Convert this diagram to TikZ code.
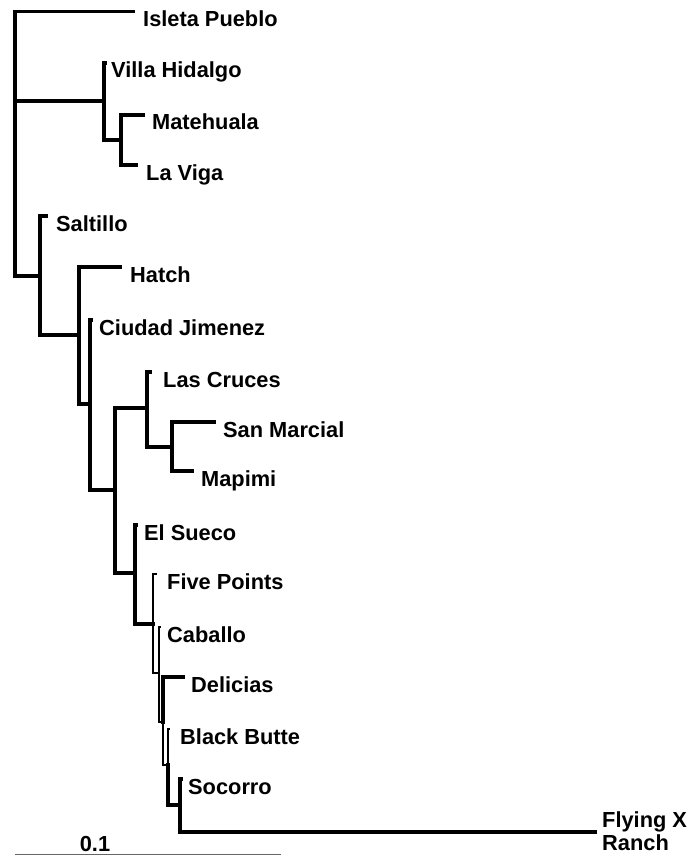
\documentclass[tikz,border=0pt]{standalone}
\usepackage{fontspec}
\setmainfont{Liberation Sans}
\begin{document}
\begin{tikzpicture}[x=1pt,y=-1pt,
  br/.style={line width=3.4pt, line cap=rect, line join=miter},
  thinbr/.style={line width=2.4pt, line cap=rect, line join=miter},
  lab/.style={anchor=base west, inner sep=0pt, font=\fontsize{21.8}{23}\selectfont\bfseries},
  scalebar/.style={line width=1.2pt, draw=black!60}]
\useasboundingbox (0,0) rectangle (700,856);
% internal nodes
\coordinate (root) at (15,101);
\coordinate (A) at (104,101);
\coordinate (B) at (121,140);
\coordinate (C) at (40,276);
\coordinate (D1) at (79,335);
\coordinate (E1) at (90,404);
\coordinate (F1) at (115,490);
\coordinate (G1) at (147,408);
\coordinate (G2) at (172,447);
\coordinate (H1) at (135,573);
\coordinate (H2) at (153,624);
\coordinate (H3) at (159,673);
\coordinate (H4) at (163,722);
\coordinate (H5) at (168,765);
\coordinate (H6) at (180,805);
% leaf tips
\coordinate (isleta) at (133,11.5);
\coordinate (villa) at (105,63);
\coordinate (matehuala) at (143,115);
\coordinate (laviga) at (136,165);
\coordinate (saltillo) at (46,216);
\coordinate (hatch) at (120,267);
\coordinate (ciudad) at (91,320);
\coordinate (lascruces) at (150,372);
\coordinate (sanmarcial) at (214,422);
\coordinate (mapimi) at (192,471);
\coordinate (elsueco) at (136,525);
\coordinate (fivepoints) at (156,574);
\coordinate (caballo) at (160,627);
\coordinate (delicias) at (183,677);
\coordinate (blackbutte) at (169,729);
\coordinate (socorro) at (181,779);
\coordinate (flyingx) at (595,832);
% branches
\draw[br] (root) |- (isleta);
\draw[br] (root) |- (A);
\draw[br] (root) |- (C);
\draw[br] (A) |- (villa);
\draw[br] (A) |- (B);
\draw[br] (B) |- (matehuala);
\draw[br] (B) |- (laviga);
\draw[br] (C) |- (saltillo);
\draw[br] (C) |- (D1);
\draw[br] (D1) |- (hatch);
\draw[br] (D1) |- (E1);
\draw[br] (E1) |- (ciudad);
\draw[br] (E1) |- (F1);
\draw[br] (F1) |- (G1);
\draw[br] (F1) |- (H1);
\draw[br] (G1) |- (lascruces);
\draw[br] (G1) |- (G2);
\draw[br] (G2) |- (sanmarcial);
\draw[br] (G2) |- (mapimi);
\draw[br] (H1) |- (elsueco);
\draw[br] (H1) |- (H2);
\draw[thinbr] (H2) |- (fivepoints);
\draw[thinbr] (H2) |- (H3);
\draw[thinbr] (H3) |- (caballo);
\draw[thinbr] (H3) |- (H4);
\draw[br] (H4) |- (delicias);
\draw[thinbr] (H4) |- (H5);
\draw[thinbr] (H5) |- (blackbutte);
\draw[br] (H5) |- (H6);
\draw[br] (H6) |- (socorro);
\draw[br] (H6) |- (flyingx);
% labels
\node[lab] (tIsleta) at (143,26.5) {Isleta Pueblo};
\node[lab] (tVilla) at (111,78) {Villa Hidalgo};
\node[lab] (tMate) at (152,129) {Matehuala};
\node[lab] (tLaViga) at (146,180) {La Viga};
\node[lab] (tSaltillo) at (56,231) {Saltillo};
\node[lab] (tHatch) at (130,282) {Hatch};
\node[lab] (tCiudad) at (99,335) {Ciudad Jimenez};
\node[lab] (tLasCruces) at (163,387) {Las Cruces};
\node[lab] (tSanMarcial) at (223,437) {San Marcial};
\node[lab] (tMapimi) at (201,486) {Mapimi};
\node[lab] (tElSueco) at (144,540) {El Sueco};
\node[lab] (tFive) at (167,589) {Five Points};
\node[lab] (tCaballo) at (167,642) {Caballo};
\node[lab] (tDelicias) at (191,692) {Delicias};
\node[lab] (tBlack) at (180,744) {Black Butte};
\node[lab] (tSocorro) at (188,794) {Socorro};
\node[anchor=west, inner sep=0pt, align=left, font=\fontsize{21.8}{22.5}\selectfont\bfseries] (tFlying) at (602,831) {Flying X\\Ranch};
% scale bar
\coordinate (sb1) at (15,854.5);
\coordinate (sb2) at (281,854.5);
\draw[scalebar] (sb1) -- (sb2);
\node[anchor=base, inner sep=0pt, font=\fontsize{21.8}{23}\selectfont\bfseries] (tScale) at (95,851) {0.1};
\end{tikzpicture}
\end{document}
